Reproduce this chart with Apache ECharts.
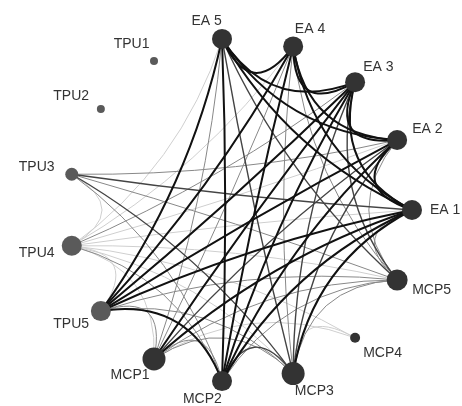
<!DOCTYPE html>
<html><head><meta charset="utf-8">
<script src="https://cdn.jsdelivr.net/npm/echarts@6/dist/echarts.min.js"></script>
<style>html,body{margin:0;padding:0;background:#fff}#c{width:462px;height:406px}</style>
</head><body><div id="c"></div>
<script>
// Nodes, in counter-clockwise order starting from the right
const nodeNames  = ['EA 1','EA 2','EA 3','EA 4','EA 5','TPU1','TPU2','TPU3','TPU4','TPU5','MCP1','MCP2','MCP3','MCP4','MCP5'];
const nodeGroups = ['EA','EA','EA','EA','EA','TPU','TPU','TPU','TPU','TPU','MCP','MCP','MCP','MCP','MCP'];
const nodeWeights = [20,20,20,20,20,8,8,13,20,20,23,20,23,10,21];

// Links grouped by strength (weakest first)
const lightLinks = [
  ['TPU4','EA 1'],['TPU4','EA 2'],['TPU4','EA 4'],['TPU4','EA 5'],
  ['TPU4','TPU5'],['TPU4','MCP1'],['TPU4','MCP3'],['TPU4','MCP5'],['TPU3','TPU4'],
  ['MCP3','MCP4'],['TPU4','MCP4'],['MCP1','MCP4']
];
const grayLinks = [
  ['MCP1','EA 4'],['MCP1','EA 5'],['MCP3','EA 4'],['MCP5','EA 1'],['MCP5','EA 2'],['MCP5','EA 4'],
  ['TPU4','EA 3'],['TPU3','EA 2'],['TPU4','MCP2'],
  ['TPU5','MCP1'],['TPU5','MCP3'],['TPU5','MCP5'],
  ['MCP1','MCP2'],['MCP1','MCP3'],['MCP1','MCP5'],['MCP2','MCP5'],['MCP3','MCP5'],
  ['TPU3','MCP5'],['TPU3','MCP2']
];
const darkLinks = [
  ['MCP1','EA 2'],['MCP3','EA 2'],['MCP3','EA 3'],['MCP3','EA 5'],['MCP5','EA 3'],['MCP5','EA 5'],
  ['TPU3','EA 1'],['TPU3','MCP3'],['MCP2','MCP3']
];
const blackLinks = [
  ['EA 1','EA 2'],['EA 1','EA 3'],['EA 1','EA 4'],['EA 1','EA 5'],['EA 2','EA 3'],
  ['EA 2','EA 4'],['EA 2','EA 5'],['EA 3','EA 4'],['EA 3','EA 5'],['EA 4','EA 5'],
  ['TPU5','EA 1'],['TPU5','EA 2'],['TPU5','EA 3'],['TPU5','EA 4'],['TPU5','EA 5'],
  ['MCP2','EA 1'],['MCP2','EA 2'],['MCP2','EA 3'],['MCP2','EA 4'],['MCP2','EA 5'],
  ['MCP1','EA 1'],['MCP1','EA 3'],['MCP3','EA 1'],['TPU5','MCP2']
];

const groupColor = {EA:'#333333', TPU:'#5a5a5a', MCP:'#333333'};
const linkStyle = [
  {color:'#cfcfcf', width:1},
  {color:'#888888', width:1},
  {color:'#444444', width:1.4},
  {color:'#111111', width:2}
];
const N = nodeNames.length;
const step = 2 * Math.PI / N;
const bend = 0.36;

const nodes = nodeNames.map(function (name, i) {
  const a = i * step, c = Math.cos(a), s = Math.sin(a);
  const size = nodeWeights[i];
  const dx = 18 * c * Math.abs(c);
  const dy = -18 * Math.sign(s) * Math.pow(Math.abs(s), 0.6);
  return {
    name: name,
    value: [1, i],
    symbolSize: size,
    itemStyle: {color: groupColor[nodeGroups[i]]},
    label: {
      show: true,
      position: [size / 2 + dx, size / 2 + dy],
      align: c >= 0 ? 'left' : 'right',
      verticalAlign: 'middle'
    }
  };
});

function makeLinks(list, level) {
  return list.map(function (p) {
    const i = nodeNames.indexOf(p[0]), j = nodeNames.indexOf(p[1]);
    const d = (((j - i) % N) + N) % N * step;
    return {
      source: p[0], target: p[1],
      lineStyle: {
        color: linkStyle[level].color,
        width: linkStyle[level].width,
        opacity: 1,
        curveness: bend / (2 * Math.tan(d / 2))
      }
    };
  });
}
const links = [].concat(
  makeLinks(lightLinks, 0), makeLinks(grayLinks, 1),
  makeLinks(darkLinks, 2), makeLinks(blackLinks, 3)
);

const chart = echarts.init(document.getElementById('c'));
chart.setOption({
  animation: false,
  polar: {center: [240, 210], radius: 172},
  angleAxis: {type: 'category', data: nodeNames, boundaryGap: false, startAngle: 0, clockwise: false, show: false},
  radiusAxis: {type: 'value', min: 0, max: 1, show: false},
  series: [{
    type: 'graph',
    coordinateSystem: 'polar',
    data: nodes,
    links: links,
    label: {color: '#333', fontSize: 14, fontFamily: 'Liberation Sans, Arial, sans-serif'},
    lineStyle: {opacity: 1}
  }]
});
</script></body></html>
